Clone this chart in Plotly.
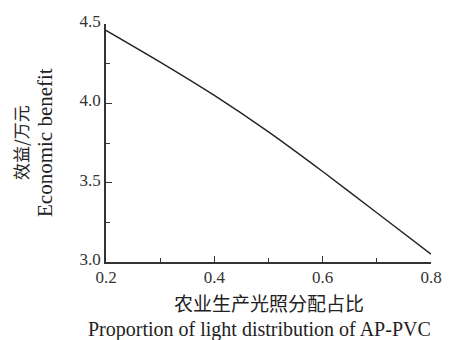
import plotly.graph_objects as go

# Share of light allocated to agricultural production
light_share = [0.2, 0.3, 0.4, 0.5, 0.6, 0.7, 0.8]
# Economic benefit (10k yuan)
benefit = [4.46, 4.26, 4.05, 3.82, 3.57, 3.31, 3.05]

x_ticks = [0.2, 0.4, 0.6, 0.8]
x_tick_text = ["0.2", "0.4", "0.6", "0.8"]
y_ticks = [3.0, 3.5, 4.0, 4.5]
y_tick_text = ["3.0", "3.5", "4.0", "4.5"]

SERIF = "Liberation Serif, Times New Roman, serif"
CJK = "Noto Sans CJK SC, Liberation Serif, serif"
AXIS_COLOR = "#333333"

fig = go.Figure()
fig.add_trace(go.Scatter(
    x=light_share, y=benefit, mode="lines",
    line=dict(color="#222222", width=1.4, shape="spline", smoothing=0.6),
    showlegend=False, hoverinfo="skip",
))

axis_common = dict(
    showgrid=False, zeroline=False, showline=True, linecolor=AXIS_COLOR,
    linewidth=1.5, ticks="inside", tickcolor=AXIS_COLOR, tickwidth=1.2,
    ticklen=6, mirror=False,
    tickfont=dict(family=SERIF, size=17, color="#333333"),
)

fig.update_xaxes(
    range=[0.2, 0.8], tickvals=x_ticks, ticktext=x_tick_text,
    minor=dict(ticks="inside", ticklen=4, tickwidth=1.2, tickcolor=AXIS_COLOR,
               dtick=0.1, tick0=0.2, showgrid=False),
    ticklabelstandoff=-1,
    **axis_common,
)
fig.update_yaxes(
    range=[3.0, 4.5], tickvals=y_ticks, ticktext=y_tick_text,
    minor=dict(ticks="inside", ticklen=4, tickwidth=1.2, tickcolor=AXIS_COLOR,
               dtick=0.25, tick0=3.0, showgrid=False),
    ticklabelstandoff=0, ticklabelshift=-3,
    **axis_common,
)

annotations = [
    dict(text="农业生产光照分配占比", xref="paper", yref="paper", x=0.5, y=0,
         xanchor="center", yanchor="middle", yshift=-40, showarrow=False,
         font=dict(family=CJK, size=19, color="#222222")),
    dict(text="Proportion of light distribution of AP-PVC", xref="paper", yref="paper",
         x=-0.063, y=0, xanchor="left", yanchor="middle", yshift=-67, showarrow=False,
         font=dict(family=SERIF, size=20, color="#222222")),
    dict(text="效益/万元", xref="paper", yref="paper", x=0, y=0.5,
         xanchor="center", yanchor="middle", xshift=-86, textangle=-90, showarrow=False,
         font=dict(family=CJK, size=17, color="#222222")),
    dict(text="Economic benefit", xref="paper", yref="paper", x=0, y=0.5,
         xanchor="center", yanchor="middle", xshift=-61, textangle=-90, showarrow=False,
         font=dict(family=SERIF, size=21, color="#222222")),
]

fig.update_layout(
    width=454, height=340,
    margin=dict(l=106, r=16, t=17, b=78),
    paper_bgcolor="white", plot_bgcolor="white",
    annotations=annotations,
)

fig.write_html("out.html")
